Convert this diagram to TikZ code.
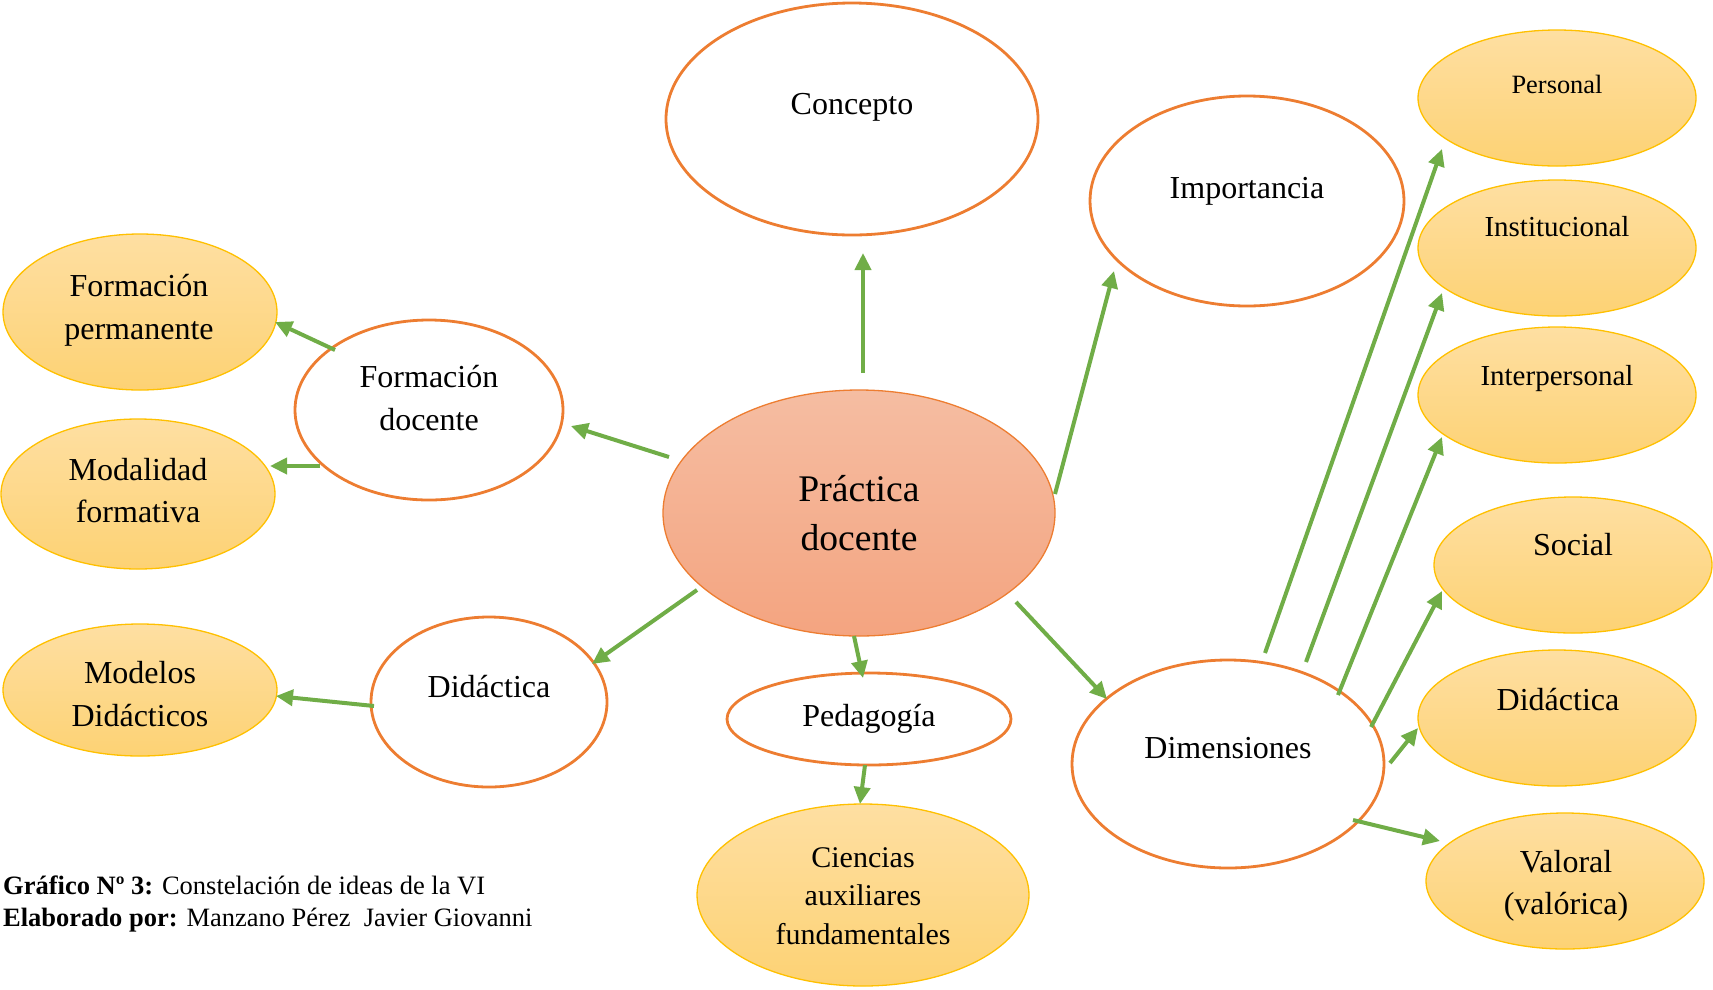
\documentclass[tikz,border=0pt]{standalone}
\usepackage{fontspec}
\setmainfont{Liberation Serif}
\usetikzlibrary{shapes.geometric,arrows.meta}
\definecolor{orangeline}{HTML}{ED7D31}
\definecolor{goldline}{HTML}{FFC000}
\definecolor{arrowgreen}{HTML}{70AD47}
\definecolor{goldtop}{HTML}{FEDFA2}
\definecolor{goldbot}{HTML}{FDD274}
\definecolor{salmontop}{HTML}{F5BDA2}
\definecolor{salmonbot}{HTML}{F4A480}
\begin{document}
\begin{tikzpicture}[x=1pt,y=1pt,
  wnode/.style={ellipse, draw=orangeline, line width=2.8pt, fill=white, inner sep=0pt},
  gnode/.style={ellipse, draw=goldline, line width=1.3pt, top color=goldtop, bottom color=goldbot, inner sep=0pt},
  pnode/.style={ellipse, draw=orangeline, line width=1.3pt, top color=salmontop, bottom color=salmonbot, inner sep=0pt,
    align=center, font=\fontsize{37.6}{49}\selectfont},
  txt/.style={font=\fontsize{32}{42.5}\selectfont, align=center, inner sep=0pt},
  arr/.style={draw=arrowgreen, line width=4pt, -{Triangle[length=17pt,width=16pt]}}]
\useasboundingbox (0,0) rectangle (1713,-989);

% central idea
\node[pnode, minimum width=392, minimum height=246] (pd) at (859,-513) {Práctica\\docente};

% first-level ideas
\node[wnode, minimum width=372, minimum height=232] (concepto) at (852,-119) {};
\node[txt] (conceptoT) at (852,-107) {Concepto};
\node[wnode, minimum width=314, minimum height=210] (importancia) at (1247,-201) {};
\node[txt] (importanciaT) at (1247,-191) {Importancia};
\node[wnode, minimum width=268, minimum height=180] (fd) at (429,-410) {};
\node[txt] (fdT) at (429,-398) {Formación\\docente};
\node[wnode, minimum width=236, minimum height=170] (did) at (489,-702) {};
\node[txt] (didT) at (489,-687) {Didáctica};
\node[wnode, minimum width=284, minimum height=92] (ped) at (869,-719) {};
\node[txt] (pedT) at (869,-719) {Pedagogía};
\node[wnode, minimum width=312, minimum height=208] (dim) at (1228,-764) {};
\node[txt] (dimT) at (1228,-748) {Dimensiones};

% second-level ideas, left
\node[gnode, minimum width=274, minimum height=156] (fp) at (140,-312) {};
\node[txt] (fpT) at (139,-310.5) {Formación\\permanente};
\node[gnode, minimum width=274, minimum height=150] (mf) at (138,-494) {};
\node[txt] (mfT) at (138,-490.5) {Modalidad\\formativa};
\node[gnode, minimum width=274, minimum height=132] (md) at (140,-690) {};
\node[txt] (mdT) at (140,-694) {Modelos\\Didácticos};

% second-level idea, bottom
\node[gnode, minimum width=332, minimum height=182] (cie) at (863,-895) {};
\node[txt, font=\fontsize{30}{38.8}\selectfont] (cieT) at (863,-896) {Ciencias\\auxiliares\\fundamentales};

% dimensions, right
\node[gnode, minimum width=278, minimum height=136] (per) at (1557,-98) {};
\node[txt, font=\fontsize{26.4}{34}\selectfont] (perT) at (1557,-84) {Personal};
\node[gnode, minimum width=278, minimum height=136] (ins) at (1557,-248) {};
\node[txt, font=\fontsize{29}{38}\selectfont] (insT) at (1557,-227) {Institucional};
\node[gnode, minimum width=278, minimum height=136] (inter) at (1557,-395) {};
\node[txt, font=\fontsize{29}{38}\selectfont] (interT) at (1557,-379) {Interpersonal};
\node[gnode, minimum width=278, minimum height=136] (soc) at (1573,-565) {};
\node[txt] (socT) at (1573,-545) {Social};
\node[gnode, minimum width=278, minimum height=136] (didr) at (1557,-718) {};
\node[txt] (didrT) at (1558,-700) {Didáctica};
\node[gnode, minimum width=278, minimum height=136] (val) at (1565,-881) {};
\node[txt] (valT) at (1566,-886) {Valoral\\(valórica)};

% connector end points
\coordinate (pd-con) at (863,-373);   \coordinate (con-in) at (863,-253);
\coordinate (pd-imp) at (1055,-494);  \coordinate (imp-in) at (1114,-271);
\coordinate (pd-fd) at (669,-457);    \coordinate (fd-in) at (571,-426);
\coordinate (fd-fp) at (335,-350);    \coordinate (fp-in) at (275,-322);
\coordinate (fd-mf) at (320,-466);    \coordinate (mf-in) at (270,-466);
\coordinate (pd-did) at (697,-590);   \coordinate (did-in) at (592,-664);
\coordinate (did-md) at (374,-706);   \coordinate (md-in) at (276,-696);
\coordinate (pd-ped) at (854,-636);   \coordinate (ped-in) at (863,-678);
\coordinate (ped-cie) at (865,-765);  \coordinate (cie-in) at (860,-804);
\coordinate (pd-dim) at (1016,-602);  \coordinate (dim-in) at (1107,-699);
\coordinate (dim-per) at (1265,-653); \coordinate (per-in) at (1442,-149);
\coordinate (dim-ins) at (1306,-662); \coordinate (ins-in) at (1442,-293);
\coordinate (dim-int) at (1338,-695); \coordinate (int-in) at (1442,-437);
\coordinate (dim-soc) at (1371,-727); \coordinate (soc-in) at (1442,-591);
\coordinate (dim-did) at (1390,-763); \coordinate (didr-in) at (1418,-728);
\coordinate (dim-val) at (1353,-820); \coordinate (val-in) at (1440,-841);

% connectors
\draw[arr] (pd-con) -- (con-in);
\draw[arr] (pd-imp) -- (imp-in);
\draw[arr] (pd-fd) -- (fd-in);
\draw[arr] (fd-fp) -- (fp-in);
\draw[arr] (fd-mf) -- (mf-in);
\draw[arr] (pd-did) -- (did-in);
\draw[arr] (did-md) -- (md-in);
\draw[arr] (pd-ped) -- (ped-in);
\draw[arr] (ped-cie) -- (cie-in);
\draw[arr] (pd-dim) -- (dim-in);
\draw[arr] (dim-per) -- (per-in);
\draw[arr] (dim-ins) -- (ins-in);
\draw[arr] (dim-int) -- (int-in);
\draw[arr] (dim-soc) -- (soc-in);
\draw[arr] (dim-did) -- (didr-in);
\draw[arr] (dim-val) -- (val-in);

% caption
\node[anchor=base west, inner sep=0pt, font=\fontsize{26.5}{32}\selectfont] (cap1) at (3,-894)
  {\textbf{Gráfico Nº 3:} Constelación de ideas de la VI};
\node[anchor=base west, inner sep=0pt, font=\fontsize{26.5}{32}\selectfont] (cap2) at (3,-926)
  {\textbf{Elaborado por:} Manzano Pérez\ \ Javier Giovanni};
\end{tikzpicture}
\end{document}
